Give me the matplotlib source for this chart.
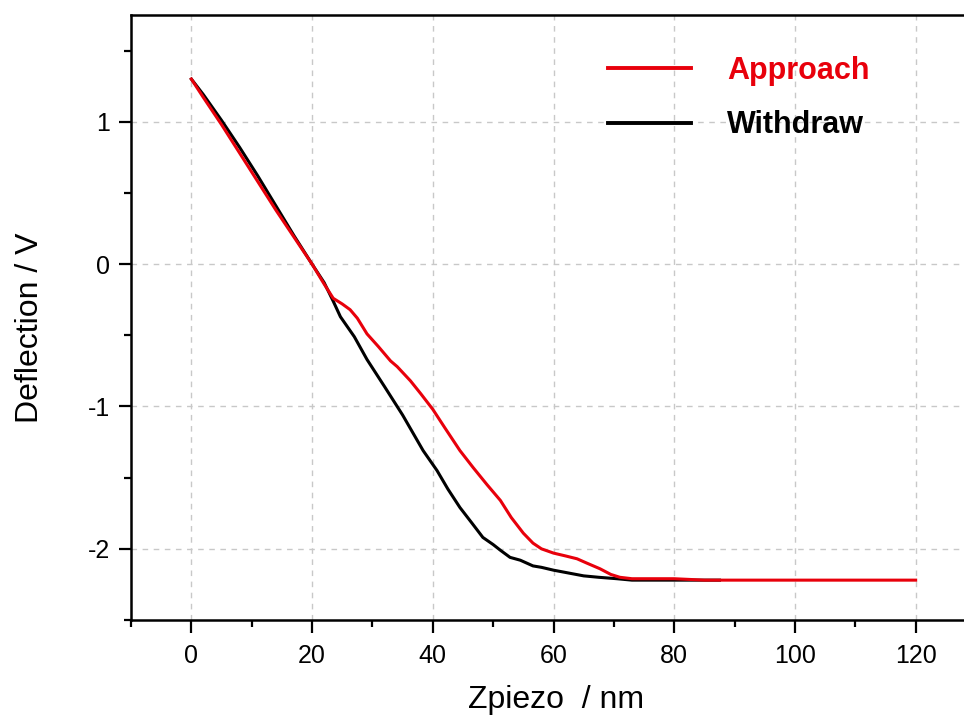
import matplotlib
matplotlib.use("Agg")
import matplotlib.pyplot as plt
from matplotlib.ticker import MultipleLocator

plt.rcParams['font.family'] = ['Liberation Sans', 'DejaVu Sans']

approach_x = [0, 2, 5, 8, 11, 14, 17, 20, 22, 23.5, 25, 26.3, 27.5, 29.1, 31, 33, 34.1, 36.3, 38, 40,
              42, 44.5, 46.7, 49, 51.2, 53, 55, 56.6, 58, 60, 62, 63.9, 65.5, 67.7, 69.5, 71, 73, 76, 80,
              85, 90, 100, 110, 120]
approach_y = [1.30, 1.17, 0.98, 0.78, 0.58, 0.38, 0.19, 0.0, -0.14, -0.24, -0.28, -0.32, -0.38, -0.49, -0.58,
              -0.68, -0.72, -0.82, -0.91, -1.02, -1.15, -1.31, -1.43, -1.55, -1.66, -1.78, -1.89, -1.96,
              -2.00, -2.03, -2.05, -2.07, -2.10, -2.14, -2.18, -2.20, -2.21, -2.21, -2.21, -2.22, -2.22,
              -2.22, -2.22, -2.22]

withdraw_x = [0, 2, 5, 8, 11, 14, 17, 20, 22, 23.5, 24.7, 27, 29.1, 32, 35, 38.4, 40.7, 42.5, 44.5,
              46.5, 48.3, 50, 51.2, 52.8, 54.5, 56.6, 58, 60, 62.5, 65, 67.5, 70.5, 73, 76, 80, 87.5]
withdraw_y = [1.30, 1.19, 1.01, 0.82, 0.62, 0.41, 0.20, 0.0, -0.13, -0.26, -0.37, -0.51, -0.67, -0.86,
              -1.06, -1.31, -1.45, -1.58, -1.71, -1.82, -1.92, -1.97, -2.01, -2.06, -2.08, -2.12, -2.13,
              -2.15, -2.17, -2.19, -2.20, -2.21, -2.22, -2.22, -2.22, -2.22]

x_ticks = [0, 20, 40, 60, 80, 100, 120]
y_ticks = [-2, -1, 0, 1]
y_tick_labels = ['-2', '-1', '0', '1']

fig = plt.figure(figsize=(9.64, 7.18), dpi=100)
ax = fig.add_axes([131/964, 1 - 620/718, (976 - 131)/964, (620 - 15)/718])

ax.plot(withdraw_x, withdraw_y, color='black', lw=2.2, label='Withdraw', zorder=3)
ax.plot(approach_x, approach_y, color='#e8000b', lw=2.2, label='Approach', zorder=4)

ax.set_xlim(-10, 130)
ax.set_ylim(-2.5, 1.75)
ax.set_xticks(x_ticks)
ax.set_yticks(y_ticks)
ax.set_yticklabels(y_tick_labels)
ax.xaxis.set_minor_locator(MultipleLocator(10))
ax.yaxis.set_minor_locator(MultipleLocator(0.5))

ax.grid(True, which='major', linestyle=(0, (4, 4)), color='#c8c8c8', lw=1.0)
ax.set_axisbelow(True)

for s in ax.spines.values():
    s.set_linewidth(1.8)
ax.tick_params(which='major', direction='out', length=9, width=1.6, labelsize=18)
ax.tick_params(axis='x', which='major', pad=8)
ax.tick_params(axis='y', which='major', pad=6)
ax.tick_params(which='minor', direction='out', length=5, width=1.6)
ax.tick_params(top=False, right=False, which='both')

ax.set_xlabel('Zpiezo  / nm', fontsize=23)
ax.set_ylabel('Deflection / V', fontsize=23)
ax.xaxis.set_label_coords(0.5036, -0.108)
ax.yaxis.set_label_coords(-0.102, 0.483)

handles, labels = ax.get_legend_handles_labels()
order = [1, 0]
leg = ax.legend([handles[i] for i in order], [labels[i] for i in order],
                loc='upper left', bbox_to_anchor=(608/964, 1 - 56/718), bbox_transform=fig.transFigure,
                frameon=False, prop={'weight': 'bold', 'size': 22}, handlelength=2.7,
                handletextpad=1.2, labelspacing=0.8, borderpad=0, borderaxespad=0)
for t, c in zip(leg.get_texts(), ['#e8000b', 'black']):
    t.set_color(c)
for l in leg.get_lines():
    l.set_linewidth(2.8)

fig.savefig('out.png', dpi=100)
